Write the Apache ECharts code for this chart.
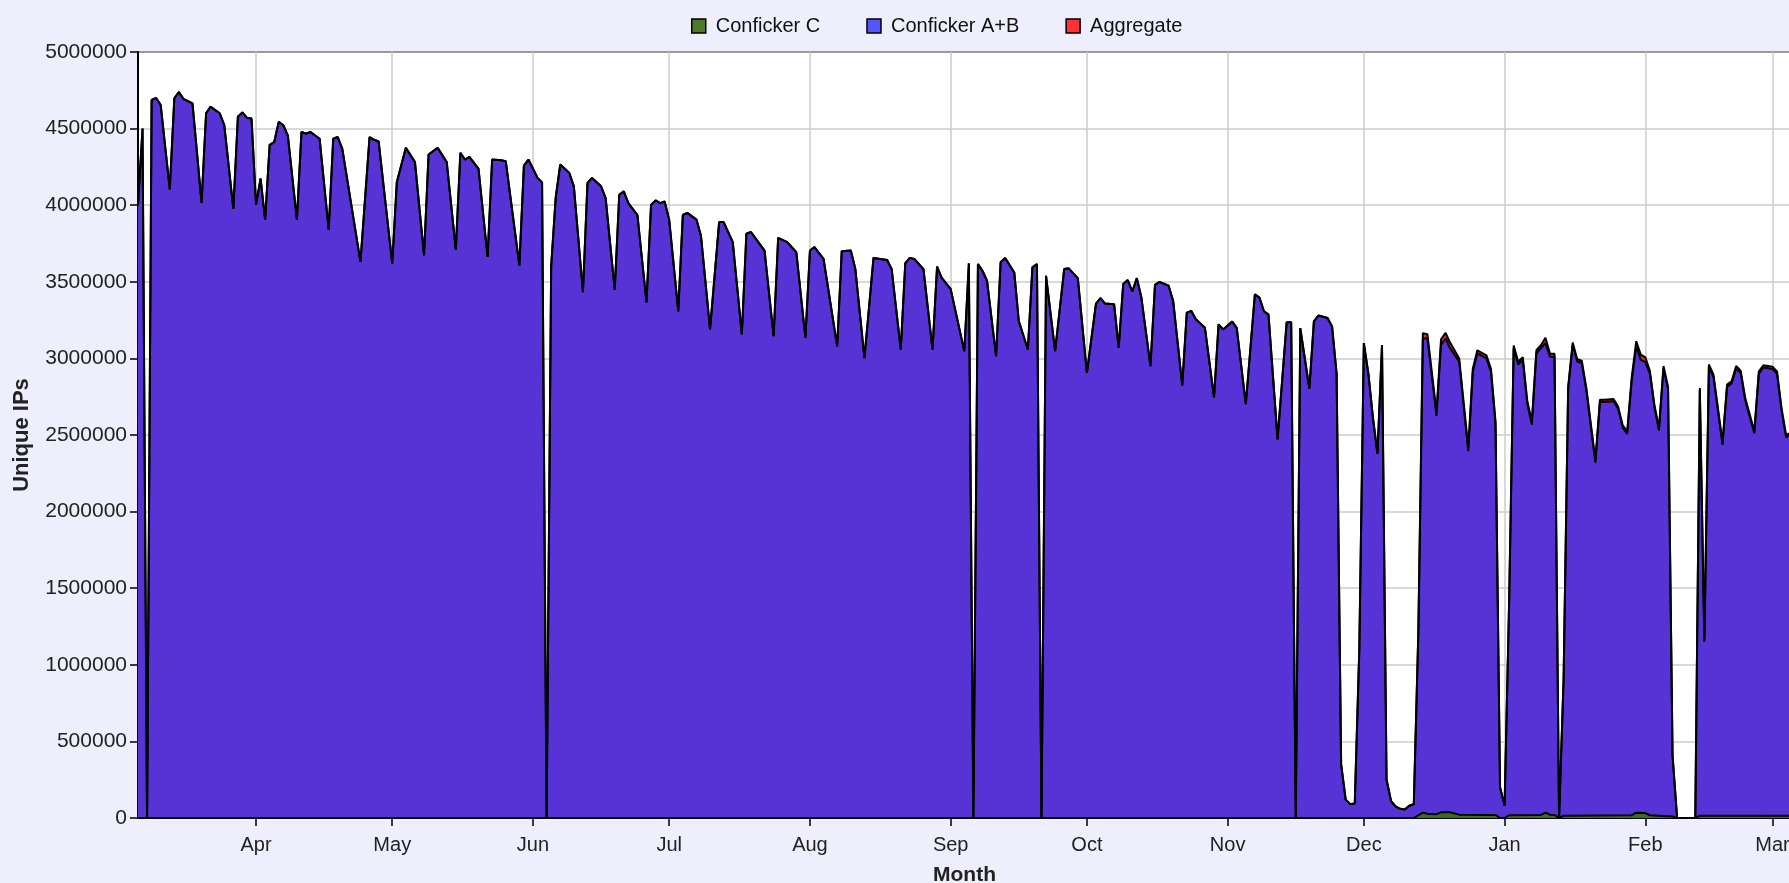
<!DOCTYPE html>
<html>
<head>
<meta charset="utf-8">
<script src="https://cdn.jsdelivr.net/npm/echarts@6.0.0/dist/echarts.min.js"></script>
<style>
  html, body { margin: 0; padding: 0; overflow: hidden; background: #eeeefc; }
  #chart { width: 1789px; height: 883px; }
</style>
</head>
<body>
<div id="chart"></div>
<script>
// days are counted from 1 Apr 2009 (negative = March), values in thousands of IPs
const monthNames = ['Jan', 'Feb', 'Mar', 'Apr', 'May', 'Jun', 'Jul', 'Aug', 'Sep', 'Oct', 'Nov', 'Dec'];
const legendNames = ['Conficker C', 'Conficker A+B', 'Aggregate'];

// Conficker A+B
const abData = [
  [-26, 4000], [-25, 4500], [-24, 0], [-23, 4687], [-22, 4700], [-21, 4654], [-19, 4103],
  [-18, 4698], [-17, 4738], [-16, 4694], [-14, 4665], [-12, 4015], [-11, 4600], [-10, 4643],
  [-8, 4600], [-7, 4522], [-5, 3976], [-4, 4577], [-3, 4606], [-2, 4570], [-1, 4566],
  // April
  [0, 4004], [1, 4174], [2, 3905], [3, 4394], [4, 4412], [5, 4544], [6, 4522], [7, 4456],
  [9, 3905], [10, 4478], [11, 4467], [12, 4478], [14, 4434], [16, 3839], [17, 4434],
  [18, 4445], [19, 4368], [23, 3630], [25, 4445], [26, 4427], [27, 4416],
  // May
  [30, 3619], [31, 4150], [33, 4375], [35, 4281], [37, 3673], [38, 4331], [40, 4375],
  [42, 4281], [44, 3710], [45, 4342], [46, 4298], [47, 4316], [49, 4237], [51, 3662],
  [52, 4298], [54, 4294], [55, 4287], [58, 3607], [59, 4259], [60, 4298],
  // June
  [62, 4178], [63, 4149], [64, 0], [65, 3600], [66, 4050], [67, 4265], [69, 4210],
  [70, 4123], [72, 3432], [73, 4145], [74, 4178], [76, 4123], [77, 4046], [79, 3447],
  [80, 4068], [81, 4090], [82, 4013], [84, 3936], [86, 3366], [87, 4002], [88, 4031],
  [89, 4013], [90, 4024],
  // July
  [91, 3904], [93, 3307], [94, 3936], [95, 3950], [97, 3906], [98, 3800], [100, 3189],
  [102, 3890], [103, 3890], [105, 3759], [107, 3156], [108, 3814], [109, 3825],
  [112, 3704], [114, 3145], [115, 3787], [117, 3759], [119, 3693],
  // August
  [121, 3134], [122, 3704], [123, 3726], [125, 3649], [128, 3079], [129, 3700],
  [131, 3704], [132, 3583], [134, 3002], [136, 3656], [139, 3643], [140, 3583],
  [142, 3057], [143, 3621], [144, 3656], [145, 3649], [147, 3583], [149, 3057],
  [150, 3599], [151, 3528],
  // September
  [153, 3452], [156, 3047], [157, 3620], [158, 0], [159, 3616], [160, 3572], [161, 3507],
  [163, 3014], [164, 3627], [165, 3655], [167, 3561], [168, 3244], [170, 3058],
  [171, 3594], [172, 3616], [173, 0], [174, 3539], [176, 3047], [178, 3583],
  [179, 3588], [180, 3555], [181, 3524],
  // October
  [183, 2905], [185, 3358], [186, 3393], [187, 3358], [189, 3353], [190, 3069],
  [191, 3485], [192, 3511], [193, 3437], [194, 3524], [195, 3397], [197, 2949],
  [198, 3480], [199, 3500], [201, 3474], [202, 3375], [204, 2824], [205, 3299],
  [206, 3310], [207, 3255], [209, 3200], [211, 2745], [212, 3222],
  // November
  [213, 3189], [215, 3240], [216, 3200], [218, 2701], [220, 3419], [221, 3397],
  [222, 3308], [223, 3286], [225, 2471], [227, 3236], [228, 3236], [229, 0], [230, 3198],
  [232, 2802], [233, 3242], [234, 3280], [236, 3264], [237, 3209], [238, 2900],
  [239, 350], [240, 120], [241, 90], [242, 95],
  // December
  [243, 1100], [244, 3100], [245, 2900], [246, 2614], [247, 2377], [248, 3088],
  [249, 250], [250, 110], [251, 75], [252, 60], [253, 55], [254, 80], [255, 90],
  [256, 1200], [257, 3130], [258, 3130], [260, 2625], [261, 3088], [262, 3130],
  [263, 3066], [265, 2978], [267, 2394], [268, 2912], [269, 3033], [271, 3000],
  [272, 2912], [273, 2570],
  // January
  [274, 200], [275, 80], [276, 1400], [277, 3066], [278, 2960], [279, 2990], [280, 2704],
  [281, 2568], [282, 3033], [283, 3066], [284, 3100], [285, 3010], [286, 3010], [287, 0],
  [288, 900], [289, 2800], [290, 3088], [291, 2980], [292, 2970], [293, 2792],
  [295, 2320], [296, 2715], [297, 2715], [299, 2720], [300, 2671], [301, 2550],
  [302, 2507], [303, 2857], [304, 3077],
  // February
  [305, 2990], [306, 2975], [307, 2901], [308, 2682], [309, 2529], [310, 2935],
  [311, 2800], [312, 400], [313, 0], [317, 0], [318, 2792], [319, 1150], [320, 2945],
  [321, 2879], [323, 2436], [324, 2814], [325, 2836], [326, 2935], [327, 2905],
  [328, 2726], [330, 2511], [331, 2901], [332, 2940],
  // March
  [334, 2930], [335, 2900], [336, 2660], [337, 2485], [338, 2500]
];

// Conficker C (only shows up from mid December)
const cData = [
  [-26, 0], [255, 0], [257, 35], [258, 28], [260, 25], [261, 37], [263, 37], [265, 22],
  [273, 20], [274, 0], [275, 0], [276, 18], [283, 20], [284, 35], [285, 22], [286, 20],
  [287, 0], [288, 15], [303, 18], [304, 35], [306, 32], [307, 18], [312, 10], [313, 0],
  [317, 0], [318, 15], [338, 15]
];

// Aggregate from the day C appears; before that it equals A+B
const aggregateLate = [
  [255, 90], [256, 1215], [257, 3165], [258, 3158], [260, 2650], [261, 3125], [262, 3167],
  [263, 3103], [265, 3000], [267, 2414], [268, 2932], [269, 3053], [271, 3020],
  [272, 2932], [273, 2590], [274, 200], [275, 80], [276, 1418], [277, 3084], [278, 2978],
  [279, 3008], [280, 2722], [281, 2586], [282, 3053], [283, 3086], [284, 3135],
  [285, 3032], [286, 3030], [287, 0], [288, 915], [289, 2815], [290, 3103], [291, 2995],
  [292, 2985], [293, 2807], [295, 2335], [296, 2730], [297, 2730], [299, 2735],
  [300, 2686], [301, 2565], [302, 2522], [303, 2875], [304, 3112], [305, 3025],
  [306, 3007], [307, 2919], [308, 2697], [309, 2544], [310, 2950], [311, 2815],
  [312, 410], [313, 0], [317, 0], [318, 2807], [319, 1165], [320, 2960], [321, 2894],
  [323, 2451], [324, 2829], [325, 2851], [326, 2950], [327, 2920], [328, 2741],
  [330, 2526], [331, 2916], [332, 2955], [334, 2945], [335, 2915], [336, 2675],
  [337, 2500], [338, 2515]
];
const aggregateData = abData.filter(p => p[0] < 255).concat(aggregateLate);

const DAY = 24 * 3600 * 1000;
const font = 'Liberation Sans, Arial, sans-serif';

function toPoints(list) {
  return list.map(p => [new Date(2009, 3, 1 + p[0]).getTime(), p[1] * 1000]);
}

function areaSeries(name, data, legendColor, fillColor) {
  return {
    name: name,
    type: 'line',
    data: toPoints(data),
    symbol: 'none',
    showSymbol: false,
    itemStyle: { color: legendColor },
    lineStyle: { color: '#000', width: 2 },
    areaStyle: { color: fillColor, opacity: 1 },
    emphasis: { disabled: true }
  };
}

const chart = echarts.init(document.getElementById('chart'));

chart.setOption({
  animation: false,
  backgroundColor: '#eeeefc',
  legend: {
    data: legendNames,
    left: 691,
    top: 16,
    padding: 0,
    icon: 'rect',
    itemWidth: 14,
    itemHeight: 14,
    itemGap: 46,
    itemStyle: { borderColor: '#000', borderWidth: 1.5 },
    textStyle: { fontFamily: font, fontSize: 20, color: '#111', padding: [0, 0, 0, 5] }
  },
  grid: {
    left: 138,
    right: -2,
    top: 52,
    bottom: 65,
    show: true,
    backgroundColor: '#fff',
    borderColor: '#000',
    borderWidth: 2,
    outerBoundsMode: 'none'
  },
  xAxis: {
    type: 'time',
    min: new Date(2009, 2, 6).getTime(),
    max: new Date(2010, 2, 5, 2).getTime(),
    minInterval: 28 * DAY,
    maxInterval: 31 * DAY,
    name: 'Month',
    nameLocation: 'middle',
    nameGap: 47,
    nameTextStyle: { fontFamily: font, fontSize: 21, fontWeight: 'bold', color: '#222' },
    axisLine: { lineStyle: { color: '#000', width: 2 } },
    axisTick: { show: true, length: 8, lineStyle: { color: '#000', width: 1.5 } },
    axisLabel: {
      fontFamily: font,
      fontSize: 20,
      color: '#222',
      margin: 17,
      showMinLabel: false,
      showMaxLabel: false,
      hideOverlap: false,
      formatter: v => monthNames[new Date(v).getMonth()]
    },
    splitLine: { show: true, lineStyle: { color: '#cccccc', width: 1.5 } }
  },
  yAxis: {
    type: 'value',
    min: 0,
    max: 5000000,
    interval: 500000,
    name: 'Unique IPs',
    nameLocation: 'middle',
    nameGap: 105,
    nameRotate: 90,
    nameTextStyle: { fontFamily: font, fontSize: 22, fontWeight: 'bold', color: '#222' },
    axisLine: { show: true, lineStyle: { color: '#000', width: 2 } },
    axisTick: { show: true, length: 8, lineStyle: { color: '#000', width: 1.5 } },
    axisLabel: { fontFamily: font, fontSize: 21, color: '#222', margin: 11, formatter: v => String(v) },
    splitLine: { show: true, lineStyle: { color: '#cccccc', width: 1.5 } }
  },
  series: [
    areaSeries('Aggregate', aggregateData, '#ff3333', '#e02424'),
    areaSeries('Conficker A+B', abData, '#5555ff', '#5733d6'),
    areaSeries('Conficker C', cData, '#4e7b27', '#3f6a22')
  ]
});
</script>
</body>
</html>
